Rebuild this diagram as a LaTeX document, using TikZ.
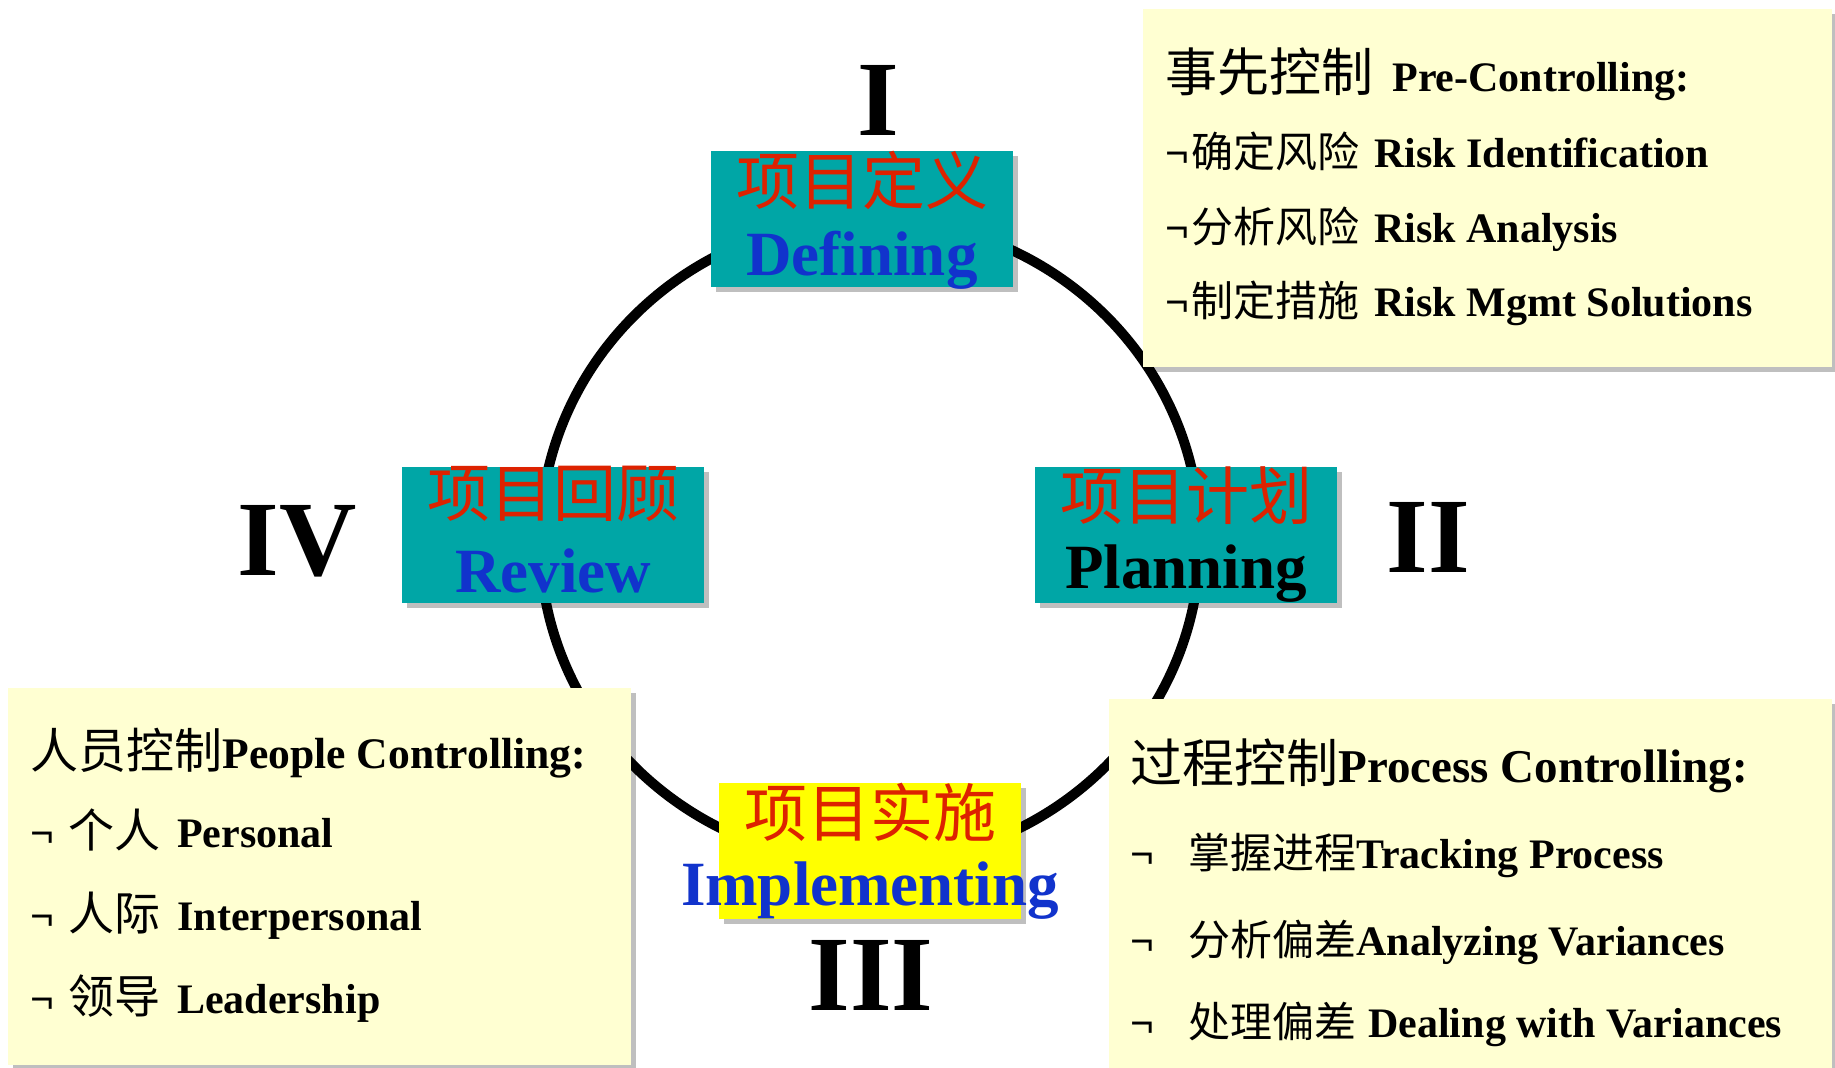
\documentclass[tikz,border=0pt]{standalone}
\usepackage{fontspec}
\setmainfont{Liberation Serif}
\newfontfamily\cjk{Noto Sans CJK SC}
\usetikzlibrary{shadows}
\definecolor{tealbox}{RGB}{0,166,166}
\definecolor{redtxt}{RGB}{221,34,0}
\definecolor{bluetxt}{RGB}{17,51,204}
\definecolor{notebg}{RGB}{255,255,210}
\definecolor{ylw}{RGB}{255,255,0}
\newcommand{\setfs}[1]{\fontsize{#1}{#1}\selectfont}
\newcommand{\zhtxt}[2]{{\cjk\mdseries\setfs{#1}#2}}
\begin{document}
\begin{tikzpicture}[x=0.5pt,y=-0.5pt,
  shadowed/.style={drop shadow={shadow xshift=2.5pt,shadow yshift=-2.5pt,opacity=0.25,fill=black}},
  stage/.style={rectangle,inner sep=0,minimum width=151pt,minimum height=68pt,fill=tealbox,shadowed},
  note/.style={rectangle,inner sep=0,fill=notebg,shadowed},
  cjklab/.style={inner sep=0,text=redtxt,font=\cjk\setfs{31.5pt}},
  latlab/.style={inner sep=0,anchor=base,font=\bfseries\setfs{31.5pt}},
  numeral/.style={inner sep=0,anchor=base,font=\bfseries\setfs{53.5pt}},
  textline/.style={inner sep=0,anchor=base west,font=\bfseries\setfs{21pt}},
]
\useasboundingbox (0,0) rectangle (1835,1068);
\fill[white] (0,0) rectangle (1835,1068);

% cycle
\draw[line width=5pt] (870,541) ellipse [x radius=165pt, y radius=161pt];

% roman numerals
\node[numeral] (n1) at (878,136) {I};
\node[numeral] (n2) at (1428,573) {II};
\node[numeral] (n3) at (871,1010) {III};
\node[numeral] (n4) at (297,576) {IV};

% stage boxes
\node[stage] (def) at (862,219) {};
\node[cjklab] (defc) at (862,180) {项目定义};
\node[latlab,text=bluetxt] (defl) at (862,276) {Defining};

\node[stage] (pla) at (1186,535) {};
\node[cjklab] (plac) at (1186,496) {项目计划};
\node[latlab,text=black] (plal) at (1186,589) {Planning};

\node[stage] (rev) at (553,535) {};
\node[cjklab] (revc) at (553,494) {项目回顾};
\node[latlab,text=bluetxt] (revl) at (553,593) {Review};

\node[stage,fill=ylw] (imp) at (870,851) {};
\node[cjklab] (impc) at (870,812) {项目实施};
\node[latlab,text=bluetxt] (impl) at (870,905) {Implementing};

% note boxes
\node[note,minimum width=344.5pt,minimum height=179pt] (pre) at (1487.5,188) {};
\node[note,minimum width=311.5pt,minimum height=188.5pt] (ppl) at (319.5,876.5) {};
\node[note,minimum width=361.5pt,minimum height=190pt] (pro) at (1470.5,889) {};

% pre-controlling text
\node[textline] (p0) at (1165,92) {\zhtxt{26pt}{事先控制}\hspace{9.5pt}Pre-Controlling:};
\node[textline] (p1) at (1165,168) {¬\hspace{1pt}\zhtxt{21pt}{确定风险}\hspace{7.5pt}Risk Identification};
\node[textline] (p2) at (1165,243) {¬\hspace{1pt}\zhtxt{21pt}{分析风险}\hspace{7.5pt}Risk Analysis};
\node[textline] (p3) at (1165,317) {¬\hspace{1pt}\zhtxt{21pt}{制定措施}\hspace{7.5pt}Risk Mgmt Solutions};

% people controlling text
\node[textline,font=\bfseries\setfs{21.8pt}] (q0) at (30,768) {\zhtxt{24pt}{人员控制}People Controlling:};
\node[textline] (q1) at (30,847) {¬\hspace{7pt}\zhtxt{23pt}{个人}\hspace{8.5pt}Personal};
\node[textline] (q2) at (30,930) {¬\hspace{7pt}\zhtxt{23pt}{人际}\hspace{8.5pt}Interpersonal};
\node[textline] (q3) at (30,1013) {¬\hspace{7pt}\zhtxt{23pt}{领导}\hspace{8.5pt}Leadership};

% process controlling text
\node[textline,font=\bfseries\setfs{23.5pt}] (r0) at (1130,782) {\zhtxt{26pt}{过程控制}Process Controlling:};
\node[textline] (r1) at (1130,868) {¬\hspace{17pt}\zhtxt{21pt}{掌握进程}Tracking Process};
\node[textline] (r2) at (1130,955) {¬\hspace{17pt}\zhtxt{21pt}{分析偏差}Analyzing Variances};
\node[textline] (r3) at (1130,1037) {¬\hspace{17pt}\zhtxt{21pt}{处理偏差}\hspace{6pt}Dealing with Variances};
\end{tikzpicture}
\end{document}
